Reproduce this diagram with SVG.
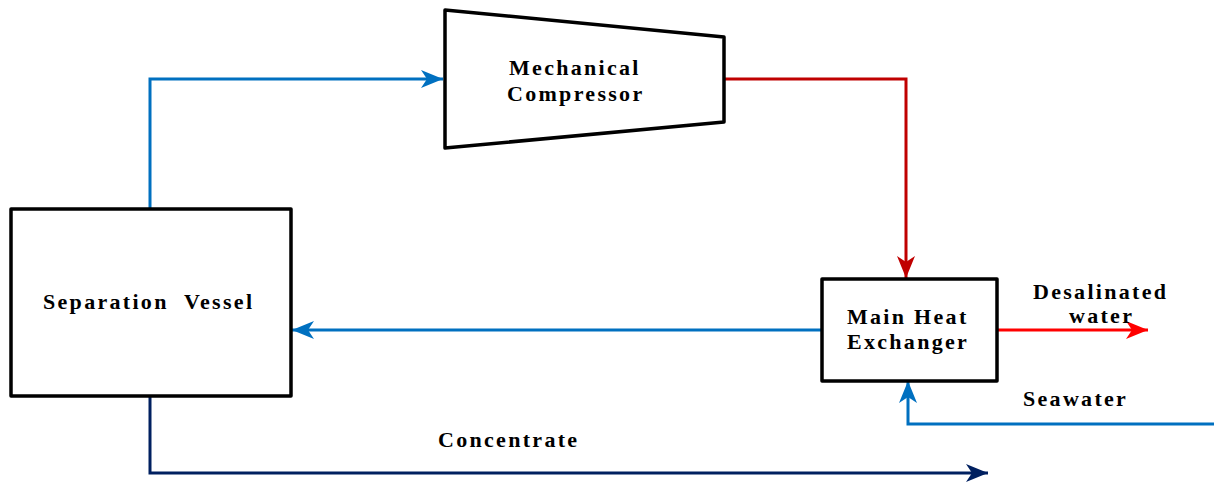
<svg xmlns="http://www.w3.org/2000/svg" width="1214" height="483" viewBox="0 0 1214 483">
<style>
.box{fill:#fff;stroke:#000;stroke-width:3.5;stroke-linejoin:round}
.t{font-family:"Liberation Serif","Times New Roman",serif;font-weight:bold;font-size:22px;letter-spacing:2.3px;fill:#000}
.blue{fill:none;stroke:#0070C0;stroke-width:3}
.red{fill:none;stroke:#C00000;stroke-width:3}
.bred{fill:none;stroke:#FF0000;stroke-width:3}
.navy{fill:none;stroke:#002060;stroke-width:3}
</style>
<defs>
<marker id="ab" markerUnits="userSpaceOnUse" markerWidth="24" markerHeight="18" refX="22" refY="9" orient="auto"><path d="M0,0 L22,9 L0,18 L6,9 Z" fill="#0070C0"/></marker>
<marker id="ar" markerUnits="userSpaceOnUse" markerWidth="24" markerHeight="18" refX="22" refY="9" orient="auto"><path d="M0,0 L22,9 L0,18 L6,9 Z" fill="#C00000"/></marker>
<marker id="abr" markerUnits="userSpaceOnUse" markerWidth="24" markerHeight="18" refX="22" refY="9" orient="auto"><path d="M0,0 L22,9 L0,18 L6,9 Z" fill="#FF0000"/></marker>
<marker id="an" markerUnits="userSpaceOnUse" markerWidth="24" markerHeight="18" refX="22" refY="9" orient="auto"><path d="M0,0 L22,9 L0,18 L6,9 Z" fill="#002060"/></marker>
</defs>
<rect width="1214" height="483" fill="#fff"/>
<g id="connectors">
<path class="blue" d="M150,208 V79 H443" marker-end="url(#ab)"/>
<path class="red" d="M724,79 H906 V278" marker-end="url(#ar)"/>
<path class="blue" d="M821,330 H292" marker-end="url(#ab)"/>
<path class="bred" d="M997,330 H1148" marker-end="url(#abr)"/>
<path class="blue" d="M1214,424 H908 V381" marker-end="url(#ab)"/>
<path class="navy" d="M150,396 V473 H988" marker-end="url(#an)"/>
</g>
<g id="compressor">
<polygon class="box" points="445,10 724,37 724,122 445,148"/>
<text class="t" x="509" y="75">Mechanical</text>
<text class="t" x="507" y="101">Compressor</text>
</g>
<g id="separation-vessel">
<rect class="box" x="11" y="209" width="280" height="187"/>
<text class="t" x="43" y="309" xml:space="preserve">Separation  Vessel</text>
</g>
<g id="heat-exchanger">
<rect class="box" x="822" y="279" width="175" height="102"/>
<text class="t" x="847" y="324">Main Heat</text>
<text class="t" x="847" y="349">Exchanger</text>
</g>
<g id="labels">
<text class="t" x="1033" y="299">Desalinated</text>
<text class="t" x="1069" y="323">water</text>
<text class="t" x="1023" y="406">Seawater</text>
<text class="t" x="438" y="447">Concentrate</text>
</g>
</svg>
